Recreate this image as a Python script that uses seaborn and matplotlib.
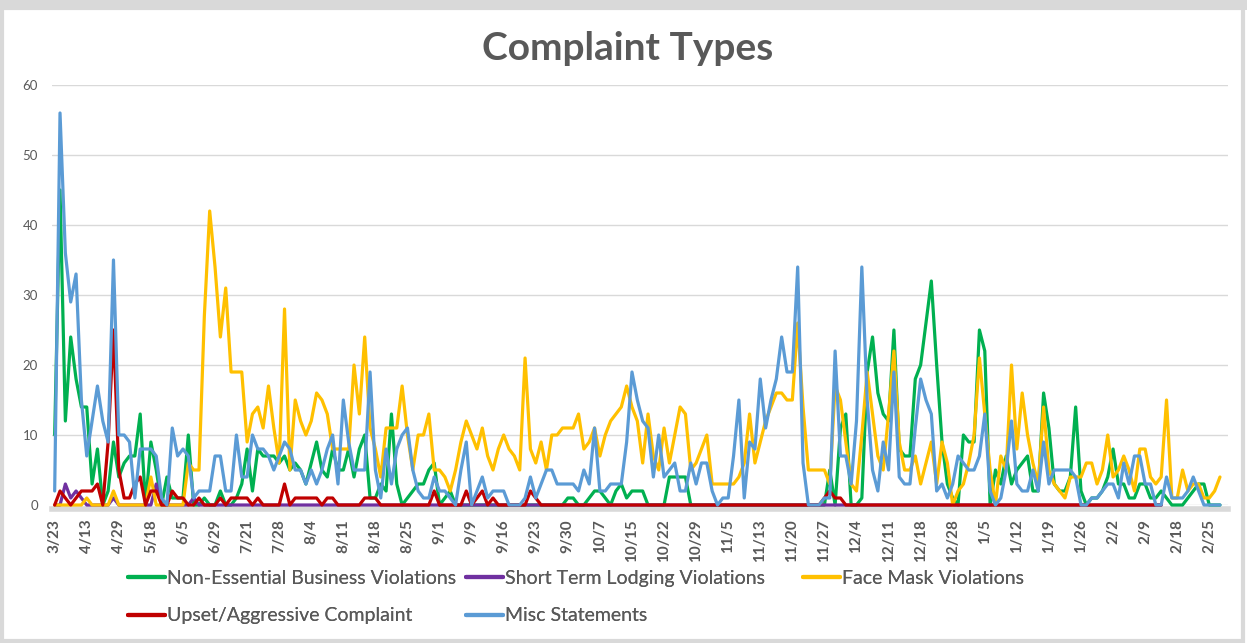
import numpy as np
import pandas as pd
import seaborn as sns
import matplotlib.pyplot as plt
from matplotlib.lines import Line2D
from matplotlib.patches import Rectangle

# tick labels (one every 6 categories)
tick_labels = ["3/23", "4/13", "4/29", "5/18", "6/5", "6/29", "7/21", "7/28", "8/4",
               "8/11", "8/18", "8/25", "9/1", "9/9", "9/16", "9/23", "9/30", "10/7",
               "10/15", "10/22", "10/29", "11/5", "11/13", "11/20", "11/27", "12/4",
               "12/11", "12/18", "12/28", "1/5", "1/12", "1/19", "1/26", "2/2", "2/9",
               "2/18", "2/25"]

non_essential = [
    10, 45, 12, 24, 18, 14,   14, 3, 8, 0, 2, 9,   4, 6, 7, 7, 13, 0,   9, 5, 0, 4, 1, 1,
    1, 10, 0, 0, 1, 0,   0, 2, 0, 0, 1, 3,   8, 2, 8, 7, 7, 7,   6, 7, 5, 6, 5, 3,
    6, 9, 5, 4, 8, 5,   5, 8, 4, 8, 10, 1,   1, 3, 2, 13, 3, 0,   1, 2, 3, 3, 5, 6,
    0, 1, 2, 0, 0, 0,   0, 0, 0, 0, 0, 0,   0, 0, 0, 0, 0, 0,   0, 0, 0, 0, 0, 0,
    1, 1, 0, 0, 1, 2,   2, 1, 0, 2, 3, 1,   2, 2, 2, 0, 0, 0,   0, 4, 4, 4, 4, 0,
    0, 0, 0, 0, 0, 0,   0, 0, 0, 0, 0, 0,   0, 0, 0, 0, 0, 0,   0, 0, 0, 0, 0, 0,
    0, 5, 0, 11, 13, 0,   0, 1, 19, 24, 16, 13,   12, 25, 8, 7, 7, 18,   20, 26, 32, 20, 9, 3,
    1, 0, 10, 9, 9, 25,   22, 0, 5, 3, 7, 3,   5, 6, 7, 2, 2, 16,   11, 3, 2, 2, 4, 14,
    2, 0, 1, 1, 2, 4,   8, 3, 3, 1, 1, 3,   3, 1, 1, 2, 1, 0,   0, 0, 1, 2, 3, 3,
    0, 0, 0]

short_term = [
    0, 0, 3, 1, 2, 1,   0, 0, 0, 0, 0, 1,   0, 0, 0, 0, 0, 0,   0, 3, 0, 0, 0, 0,
    0, 0, 1, 0, 0, 0] + [0] * 178 + [np.nan] * 11

face_mask = [
    0, 0, 0, 0, 0, 0,   1, 0, 0, 0, 0, 2,   0, 0, 0, 0, 0, 0,   4, 0, 0, 0, 0, 0,
    0, 6, 5, 5, 27, 42,   34, 24, 31, 19, 19, 19,   9, 13, 14, 11, 17, 11,   6, 28, 5, 15, 12, 10,
    12, 16, 15, 13, 8, 8,   8, 8, 20, 13, 24, 11,   8, 4, 11, 11, 11, 17,   10, 5, 10, 10, 13, 5,
    5, 4, 2, 5, 9, 12,   10, 8, 11, 7, 5, 8,   10, 8, 7, 5, 21, 8,   6, 9, 5, 10, 10, 11,
    11, 11, 13, 8, 9, 11,   7, 10, 12, 13, 14, 17,   14, 12, 6, 13, 7, 5,   11, 6, 10, 14, 13, 5,
    6, 8, 10, 3, 3, 3,   3, 3, 4, 6, 13, 6,   9, 12, 14, 16, 16, 15,   15, 26, 14, 5, 5, 5,
    5, 3, 17, 15, 9, 3,   2, 10, 19, 13, 7, 5,   13, 22, 9, 5, 5, 7,   3, 6, 9, 3, 9, 6,
    0, 2, 3, 6, 10, 21,   13, 5, 0, 7, 5, 20,   8, 16, 10, 6, 3, 14,   5, 3, 2, 1, 4, 4,
    4, 6, 6, 3, 5, 10,   4, 5, 7, 5, 2, 8,   8, 4, 3, 4, 15, 1,   1, 5, 2, 3, 3, 1,
    1, 2, 4]

upset = [
    0, 2, 1, 0, 1, 2,   2, 2, 3, 0, 9, 25,   5, 1, 1, 3, 4, 0,   2, 2, 0, 0, 2, 1,
    1, 0, 0, 1, 0, 0,   0, 1, 0, 1, 1, 1,   1, 0, 1, 0, 0, 0,   0, 3, 0, 1, 1, 1,
    1, 1, 0, 1, 1, 0,   0, 0, 0, 0, 1, 1,   1, 0, 0, 0, 0, 0,   0, 0, 0, 0, 0, 2,
    0, 0, 0, 0, 0, 2,   0, 1, 2, 0, 1, 0,   0, 0, 0, 0, 0, 2,   1, 0, 0, 0, 0, 0,
    0, 0, 0, 0, 0, 0,   0, 0, 0, 0, 0, 0,   0, 0, 0, 0, 0, 0,   0, 0, 0, 0, 0, 0,
    0, 0, 0, 0, 0, 0,   0, 0, 0, 0, 0, 0,   0, 0, 0, 0, 0, 0,   0, 0, 0, 0, 0, 0,
    1, 2, 1, 1, 0, 0] + [0] * 58 + [np.nan] * 11

misc = [
    2, 56, 36, 29, 33, 15,   7, 12, 17, 12, 9, 35,   10, 10, 9, 1, 8, 8,   8, 7, 1, 0, 11, 7,
    8, 7, 1, 2, 2, 2,   7, 7, 2, 2, 10, 4,   4, 10, 8, 8, 7, 5,   7, 9, 8, 5, 5, 3,
    5, 3, 5, 8, 10, 3,   15, 9, 5, 5, 5, 19,   5, 1, 8, 3, 8, 10,   11, 5, 2, 1, 1, 4,
    2, 2, 1, 0, 5, 9,   0, 2, 4, 1, 2, 2,   2, 0, 0, 0, 1, 4,   1, 3, 5, 5, 3, 3,
    3, 3, 2, 5, 3, 11,   2, 2, 3, 3, 3, 9,   19, 15, 12, 11, 4, 10,   4, 5, 6, 2, 2, 6,
    3, 6, 6, 2, 0, 1,   1, 7, 15, 1, 9, 8,   18, 11, 15, 18, 24, 19,   19, 34, 6, 0, 0, 0,
    1, 1, 22, 7, 7, 3,   12, 34, 15, 5, 2, 9,   5, 19, 4, 3, 3, 11,   18, 15, 13, 2, 3, 1,
    3, 7, 6, 5, 5, 7,   13, 2, 0, 1, 5, 12,   3, 2, 2, 5, 2, 9,   3, 5, 5, 5, 5, 4,
    0, 0, 1, 1, 2, 3,   3, 1, 6, 3, 7, 7,   3, 3, 0, 0, 4, 1,   1, 1, 2, 4, 2, 0,
    0, 0, 0]

series_names = ["Non-Essential Business Violations", "Short Term Lodging Violations",
                "Face Mask Violations", "Upset/Aggressive Complaint", "Misc Statements"]
colors = ["#00b050", "#7030a0", "#ffc000", "#c00000", "#5b9bd5"]

n = len(misc)
frames = []
for name, vals in zip(series_names, [non_essential, short_term, face_mask, upset, misc]):
    frames.append(pd.DataFrame({"idx": np.arange(n), "value": vals, "series": name}))
df = pd.concat(frames, ignore_index=True)

sns.set_style("white")
plt.rcParams["font.family"] = ["Lato", "DejaVu Sans"]
grey = "#595959"

fig = plt.figure(figsize=(12.47, 6.43), dpi=100)
ax = fig.add_axes([52 / 1247, 1 - 505 / 643, (1228 - 52) / 1247, 420 / 643])

sns.lineplot(data=df, x="idx", y="value", hue="series", hue_order=series_names,
             palette=colors, linewidth=2.3, legend=False, ax=ax)
for line in ax.lines:
    line.set_clip_on(False)
    line.set_zorder(4)

ax.set_xlim(-0.5, n + 0.5)
ax.set_ylim(0, 60)
ax.set_yticks(range(0, 61, 10))
ax.yaxis.grid(True, color="#d9d9d9", linewidth=1)
ax.set_axisbelow(True)
ax.set_xlabel("")
ax.set_ylabel("")
for s in ["left", "right", "top"]:
    ax.spines[s].set_visible(False)
ax.spines["bottom"].set_color("#d9d9d9")
ax.spines["bottom"].set_linewidth(4)
ax.spines["bottom"].set_position(("outward", 3))

ax.set_xticks(np.arange(0, n, 6))
ax.set_xticklabels(tick_labels, rotation=90, fontweight="bold", fontsize=11, color=grey)
ax.set_xticks(np.arange(0, n), minor=True)
ax.tick_params(axis="x", which="both", length=5, width=1, color="#d9d9d9", pad=2)
ax.tick_params(axis="y", length=0, labelsize=9.5, labelcolor=grey, pad=10)

fig.suptitle("Complaint Types", x=0.503, y=0.952, fontsize=28, fontweight="bold", color=grey)

# legend: three fixed-width columns like the original
handles = [Line2D([], [], color=c, linewidth=3) for c in colors]
columns = [([0, 3], 128), ([1, 4], 466), ([2], 803)]
for idxs, xpix in columns:
    leg = fig.legend([handles[i] for i in idxs], [series_names[i] for i in idxs],
                     loc="upper left", bbox_to_anchor=(xpix / 1247, 1 - 570 / 643),
                     frameon=False, fontsize=14, labelcolor=grey, handlelength=1.9,
                     handletextpad=0.1, labelspacing=1.05, borderaxespad=0, borderpad=0)
    fig.add_artist(leg)

fig.add_artist(Rectangle((0.002, 0.003), 0.995, 0.985, transform=fig.transFigure,
                         fill=False, edgecolor="#d9d9d9", linewidth=3))
fig.add_artist(Rectangle((0, 0.985), 1, 0.015, transform=fig.transFigure,
                         facecolor="#d9d9d9", edgecolor="none"))

fig.savefig("out.png", dpi=100, facecolor="white")
